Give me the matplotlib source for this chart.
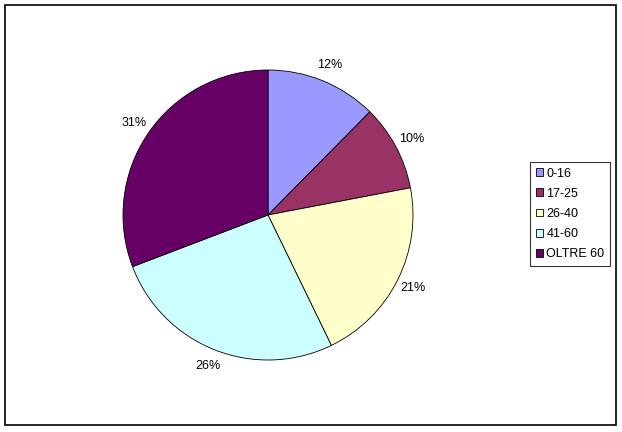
import matplotlib
matplotlib.use("Agg")
import matplotlib.pyplot as plt
from matplotlib.patches import Rectangle

plt.rcParams['font.family'] = ['Liberation Sans', 'DejaVu Sans']

labels = ['0-16', '17-25', '26-40', '41-60', 'OLTRE 60']
values = [12.4, 9.6, 20.8, 26.4, 30.8]
colors = ['#9999FF', '#993366', '#FFFFCC', '#CCFFFF', '#660066']

W, H = 622, 432
fig = plt.figure(figsize=(W / 100, H / 100), dpi=100)

# outer frame
fig.patches.append(Rectangle((5 / W, 1 - 425 / H), 611 / W, 420 / H,
                             transform=fig.transFigure, fill=False,
                             edgecolor='black', linewidth=1.2))

cx, cy, r = 268, 215, 145
ax = fig.add_axes([(cx - r) / W, 1 - (cy + r) / H, 2 * r / W, 2 * r / H])
wedges, texts, autotexts = ax.pie(values, colors=colors, startangle=90, counterclock=False,
                                  autopct='%.0f%%', pctdistance=1.12,
                                  wedgeprops=dict(edgecolor='black', linewidth=0.6),
                                  textprops=dict(fontsize=9))
ax.set_xlim(-1, 1)
ax.set_ylim(-1, 1)
ax.set_aspect('equal')
ax.axis('off')

leg = fig.legend(wedges, labels, loc='upper left',
                 bbox_to_anchor=(530 / W, 1 - 162 / H), fontsize=9,
                 frameon=True, fancybox=False, edgecolor='black',
                 handlelength=0.6, handleheight=0.6, handletextpad=0.25,
                 labelspacing=0.65, borderpad=0.45, borderaxespad=0)
leg.get_frame().set_linewidth(0.8)

fig.savefig('out.png', dpi=100)
